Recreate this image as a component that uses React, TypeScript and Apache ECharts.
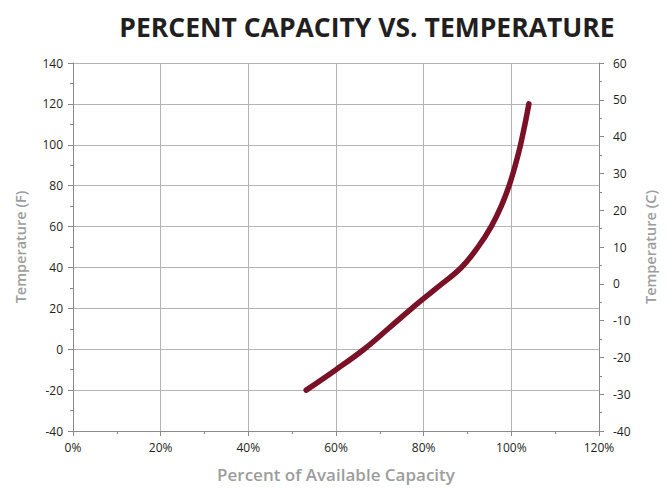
import React, { useEffect, useRef } from "react";
import * as echarts from "echarts";

const titleText = "PERCENT CAPACITY VS. TEMPERATURE";
const xName = "Percent of Available Capacity";
const yLeftName = "Temperature (F)";
const yRightName = "Temperature (C)";

// Percent of available capacity (%)
const capacity = [53.2, 60, 66.4, 71.9, 77.3, 83, 88.6, 92.4, 95.4, 97.7, 99.5, 100.9, 102.1, 103.1, 104];
// Temperature (F)
const tempF = [-20, -10, 0, 10, 20, 30, 40, 50, 60, 70, 80, 90, 100, 110, 120];

const FONT = "'Open Sans', 'Noto Sans', sans-serif";

export default function App() {
  const ref = useRef<HTMLDivElement>(null);
  useEffect(() => {
    if (!ref.current) return;
    const chart = echarts.init(ref.current, undefined, { renderer: "svg" });
    const axisLine = { show: true, onZero: false, lineStyle: { color: "#8a8a8a", width: 1 } };
    const tick = { show: true, inside: false, length: 5, lineStyle: { color: "#8a8a8a" } };
    const minor = { show: true, splitNumber: 2, length: 3, lineStyle: { color: "#8a8a8a" } };
    const label = { color: "#231f20", fontSize: 12, fontFamily: FONT };
    const nameStyle = { color: "#9d9d9d", fontSize: 14.5, fontWeight: 600 as any, fontFamily: FONT };
    chart.setOption({
      animation: false,
      backgroundColor: "#ffffff",
      title: {
        text: titleText,
        left: 362,
        top: 8,
        textAlign: "center",
        textStyle: { color: "#231f20", fontSize: 26.5, fontWeight: "bold", fontFamily: FONT },
      },
      grid: { left: 73, right: 58, top: 63, bottom: 55, containLabel: false },
      xAxis: {
        type: "value",
        min: 0,
        max: 120,
        interval: 20,
        name: xName,
        nameLocation: "middle",
        nameGap: 35,
        nameTextStyle: { ...nameStyle, fontSize: 17 },
        axisLine,
        axisTick: tick,
        minorTick: minor,
        axisLabel: { ...label, margin: 10, formatter: "{value}%" },
        splitLine: { show: true, lineStyle: { color: "#b4b4b4", width: 1 } },
      },
      yAxis: [
        {
          type: "value",
          min: -40,
          max: 140,
          interval: 20,
          position: "left",
          name: yLeftName,
          nameLocation: "middle",
          nameGap: 45,
          nameTextStyle: nameStyle,
          axisLine,
          axisTick: tick,
          minorTick: minor,
          axisLabel: { ...label, margin: 10 },
          splitLine: { show: true, lineStyle: { color: "#b4b4b4", width: 1 } },
        },
        {
          type: "value",
          min: -40,
          max: 60,
          interval: 10,
          position: "right",
          name: yRightName,
          nameLocation: "middle",
          nameGap: 44,
          nameTextStyle: nameStyle,
          axisLine,
          axisTick: tick,
          minorTick: minor,
          axisLabel: { ...label, margin: 14 },
          splitLine: { show: false },
        },
      ],
      series: [
        {
          type: "line",
          yAxisIndex: 0,
          data: capacity.map((c, i) => [c, tempF[i]]),
          smooth: 0.4,
          showSymbol: false,
          symbol: "none",
          lineStyle: { color: "#7b1126", width: 5.5, cap: "round", join: "round" },
        },
      ],
    });
    return () => chart.dispose();
  }, []);
  return (
    <div
      ref={ref}
      style={{ position: "fixed", left: 0, top: 0, width: 666, height: 488, background: "#fff" }}
    />
  );
}
